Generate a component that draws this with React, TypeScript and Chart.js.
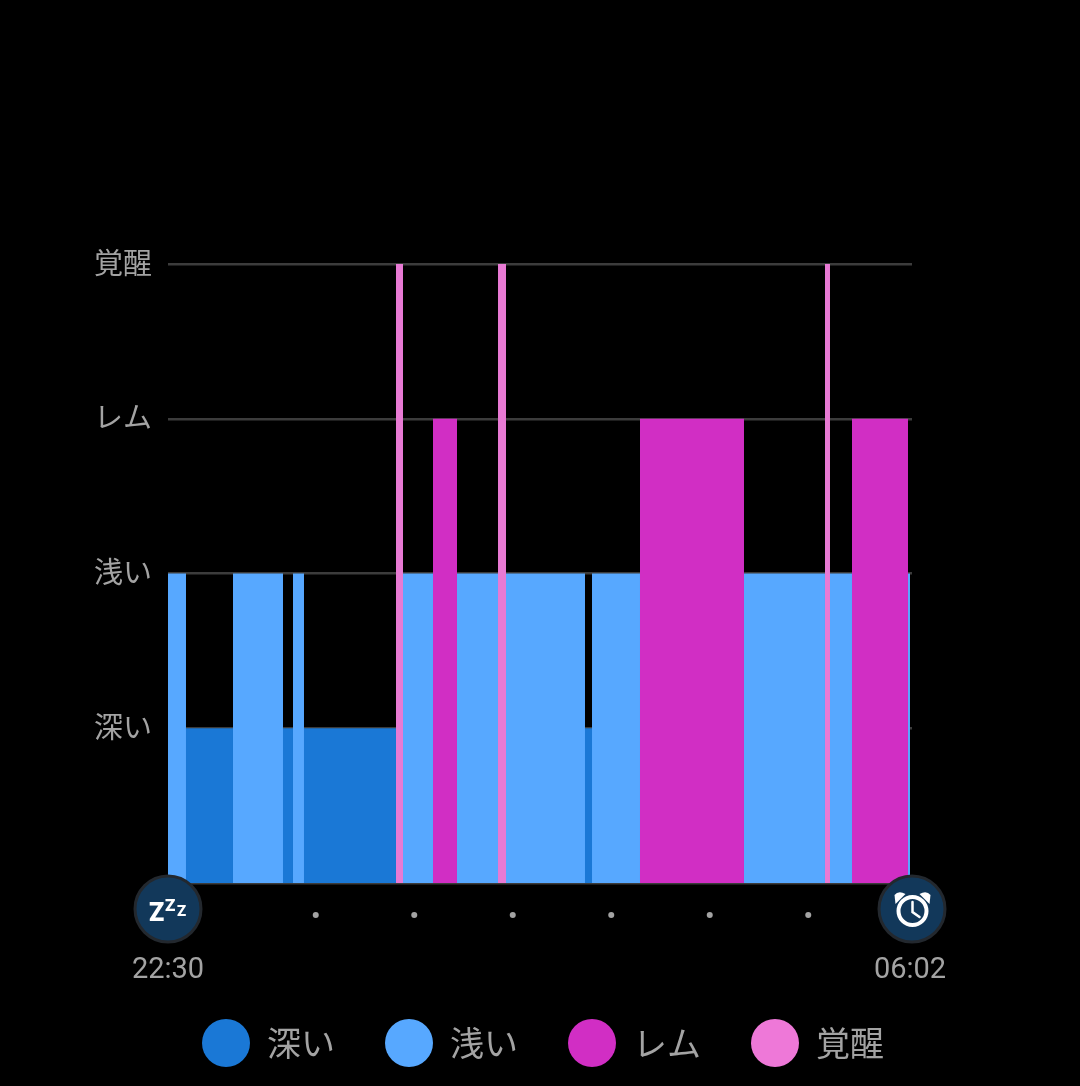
import React, { useEffect, useRef } from "react";
import { Chart, registerables } from "chart.js";

Chart.register(...registerables);

// Sleep stages on the y axis
const yLabels = ["", "深い", "浅い", "レム", "覚醒"];
const stageNames = ["深い", "浅い", "レム", "覚醒"];
const stageColors = ["#1a78d6", "#57a8ff", "#d12ec4", "#ee78d8"];

// Minutes after 22:30
const segmentStart = [0, 10.96, 39.59, 70.05, 76.14, 82.84, 138.88, 143.15, 161.42, 176.04, 201.02, 205.89, 254.01, 258.28, 287.51, 350.86, 400.2, 403.25, 416.65, 450.76];
const segmentEnd = [10.96, 39.59, 70.05, 76.14, 82.84, 138.88, 143.15, 161.42, 176.04, 201.02, 205.89, 254.01, 258.28, 287.51, 350.86, 400.2, 403.25, 416.65, 450.76, 452];
const segmentStage = [2, 1, 2, 1, 2, 1, 4, 2, 3, 2, 4, 2, 1, 2, 3, 2, 4, 2, 3, 2];

const hourMarks = [90, 150, 210, 270, 330, 390];
const timeTicks = [0, 452];
const timeLabels = ["22:30", "06:02"];

const GREY = "#a3a3a3";

const badgePlugin = {
  id: "badges",
  afterLayout(chart: any) {
    // The plot leaves room on the right, the legend is centred on the full page
    chart.legend.left += 87;
    chart.legend.right += 87;
    chart.legend.top -= 16;
    chart.legend.bottom -= 16;
  },
  afterDraw(chart: any) {
    const { ctx, scales } = chart;
    const baseY = scales.y.getPixelForValue(0);
    const badgeY = baseY + 26;
    const badge = (cx: number) => {
      ctx.beginPath();
      ctx.arc(cx, badgeY, 33, 0, Math.PI * 2);
      ctx.fillStyle = "#12385a";
      ctx.fill();
      ctx.lineWidth = 3;
      ctx.strokeStyle = "#23282e";
      ctx.stroke();
    };
    ctx.save();
    // Hour dots
    ctx.fillStyle = GREY;
    hourMarks.forEach((m) => {
      ctx.beginPath();
      ctx.arc(scales.x.getPixelForValue(m), baseY + 32, 3, 0, Math.PI * 2);
      ctx.fill();
    });
    // Sleep badge
    const lx = scales.x.getPixelForValue(0);
    badge(lx);
    ctx.fillStyle = "#ffffff";
    ctx.textAlign = "left";
    ctx.textBaseline = "alphabetic";
    ctx.font = "900 25px Roboto";
    ctx.fillText("Z", lx - 19, badgeY + 12);
    ctx.font = "900 17px Roboto";
    ctx.fillText("Z", lx - 3, badgeY + 2);
    ctx.font = "900 15px Roboto";
    ctx.fillText("Z", lx + 9, badgeY + 7);
    // Alarm badge
    const rx = scales.x.right;
    badge(rx);
    const cx = rx + 0.5;
    const cy = badgeY + 2;
    ctx.strokeStyle = "#ffffff";
    ctx.lineWidth = 4;
    ctx.beginPath();
    ctx.arc(cx, cy, 14, 0, Math.PI * 2);
    ctx.stroke();
    ctx.lineWidth = 2.5;
    ctx.lineCap = "round";
    ctx.beginPath();
    ctx.moveTo(cx, cy - 9);
    ctx.lineTo(cx, cy + 1);
    ctx.lineTo(cx + 7, cy + 6);
    ctx.stroke();
    ctx.fillStyle = "#ffffff";
    [-1, 1].forEach((s) => {
      ctx.beginPath();
      ctx.moveTo(cx + s * 17, cy - 7);
      ctx.lineTo(cx + s * 7, cy - 17);
      ctx.quadraticCurveTo(cx + s * 14, cy - 21, cx + s * 18, cy - 16);
      ctx.closePath();
      ctx.fill();
    });
    ctx.restore();
  },
};

export default function App() {
  const ref = useRef<HTMLCanvasElement>(null);

  useEffect(() => {
    document.body.style.margin = "0";
    document.body.style.background = "#000";
    const datasets: any[] = segmentStage.map((stage, i) => ({
      type: "line",
      label: stageNames[stage - 1],
      data: [
        { x: segmentStart[i], y: stage },
        { x: segmentEnd[i], y: stage },
      ],
      backgroundColor: stage === 4 ? "#e87ad4" : stageColors[stage - 1],
      borderWidth: 0,
      pointRadius: 0,
      fill: "origin",
      tension: 0,
    }));

    const chart = new Chart(ref.current!, {
      type: "line",
      data: { datasets },
      plugins: [badgePlugin],
      options: {
        animation: false,
        responsive: false,
        devicePixelRatio: 1,
        layout: { padding: { top: 264, left: 0, right: 168, bottom: 0 } },
        plugins: {
          tooltip: { enabled: false },
          legend: {
            position: "bottom",
            onClick: () => {},
            labels: {
              usePointStyle: true,
              pointStyleWidth: 48,
              boxHeight: 34,
              padding: 50,
              color: GREY,
              font: { size: 34, family: "'Noto Sans CJK JP'" },
              generateLabels: () =>
                stageNames.map((name, i) => ({
                  text: name,
                  fillStyle: stageColors[i],
                  strokeStyle: stageColors[i],
                  lineWidth: 0,
                  pointStyle: "circle",
                  fontColor: GREY,
                  hidden: false,
                  datasetIndex: i,
                })),
            },
          },
        },
        scales: {
          x: {
            type: "linear",
            min: 0,
            max: 453.2,
            afterBuildTicks: (scale: any) => {
              scale.ticks = timeTicks.map((value) => ({ value }));
            },
            afterFit: (scale: any) => {
              scale.height = 109;
            },
            border: { display: false },
            grid: { display: false },
            ticks: {
              autoSkip: false,
              maxRotation: 0,
              padding: 62,
              color: GREY,
              font: { size: 29, family: "Roboto" },
              callback: (value: any) => timeLabels[timeTicks.indexOf(Number(value))] ?? "",
            },
          },
          y: {
            type: "linear",
            min: 0,
            max: 4,
            afterFit: (scale: any) => {
              scale.width = 168;
            },
            border: { display: false },
            grid: { color: "#3c3c3c", lineWidth: 2.5, drawTicks: false },
            ticks: {
              stepSize: 1,
              padding: 16,
              labelOffset: -1.5,
              color: GREY,
              font: { size: 29, family: "'Noto Sans CJK JP'" },
              callback: (value: any) => yLabels[Number(value)] ?? "",
            },
          },
        },
      },
    } as any);
    return () => chart.destroy();
  }, []);

  return (
    <canvas
      ref={ref}
      width={1080}
      height={1086}
      style={{ display: "block", background: "#000" }}
    />
  );
}
